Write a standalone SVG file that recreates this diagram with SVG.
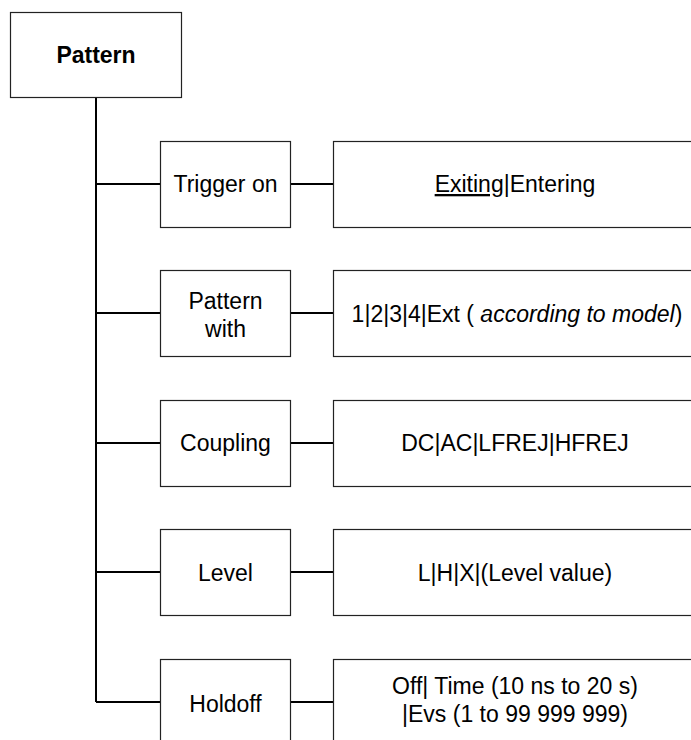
<svg xmlns="http://www.w3.org/2000/svg" width="691" height="740" viewBox="0 0 691 740">
<style>
.box{fill:#fff;stroke:#222;stroke-width:1.2}
.conn{stroke:#000;stroke-width:2;fill:none}
text{font-family:"Liberation Sans",Arial,sans-serif;font-size:23px;fill:#000;text-anchor:middle}
.b{font-weight:bold}
</style>
<rect width="691" height="740" fill="#fff"/>
<g id="connectors">
<path class="conn" d="M96 97V702"/>
<path class="conn" d="M96 184H160.5M290.5 184H333.5"/>
<path class="conn" d="M96 313H160.5M290.5 313H333.5"/>
<path class="conn" d="M96 443H160.5M290.5 443H333.5"/>
<path class="conn" d="M96 572H160.5M290.5 572H333.5"/>
<path class="conn" d="M96 702H160.5M290.5 702H333.5"/>
</g>
<g id="pattern"><rect class="box" x="10.5" y="12.5" width="171" height="85"/><text class="b" x="96" y="63">Pattern</text></g>
<g id="trigger-on"><rect class="box" x="160.5" y="141.5" width="130" height="86"/><text x="225.5" y="192">Trigger on</text></g>
<g id="trigger-on-val"><rect class="box" x="333.5" y="141.5" width="365" height="86"/><text x="515" y="192"><tspan text-decoration="underline">Exiting</tspan>|Entering</text></g>
<g id="pattern-with"><rect class="box" x="160.5" y="270.5" width="130" height="86"/><text x="225.5" y="309">Pattern</text><text x="225.5" y="337">with</text></g>
<g id="pattern-with-val"><rect class="box" x="333.5" y="270.5" width="365" height="86"/><text x="517" y="322">1|2|3|4|Ext ( <tspan font-style="italic">according to model</tspan>)</text></g>
<g id="coupling"><rect class="box" x="160.5" y="400.5" width="130" height="86"/><text x="225.5" y="451">Coupling</text></g>
<g id="coupling-val"><rect class="box" x="333.5" y="400.5" width="365" height="86"/><text x="515" y="451">DC|AC|LFREJ|HFREJ</text></g>
<g id="level"><rect class="box" x="160.5" y="529.5" width="130" height="86"/><text x="225.5" y="581">Level</text></g>
<g id="level-val"><rect class="box" x="333.5" y="529.5" width="365" height="86"/><text x="515" y="581">L|H|X|(Level value)</text></g>
<g id="holdoff"><rect class="box" x="160.5" y="659.5" width="130" height="90"/><text x="225.5" y="712">Holdoff</text></g>
<g id="holdoff-val"><rect class="box" x="333.5" y="659.5" width="365" height="90"/><text x="515" y="694">Off| Time (10 ns to 20 s)</text><text x="515" y="722">|Evs (1 to 99 999 999)</text></g>
</svg>
